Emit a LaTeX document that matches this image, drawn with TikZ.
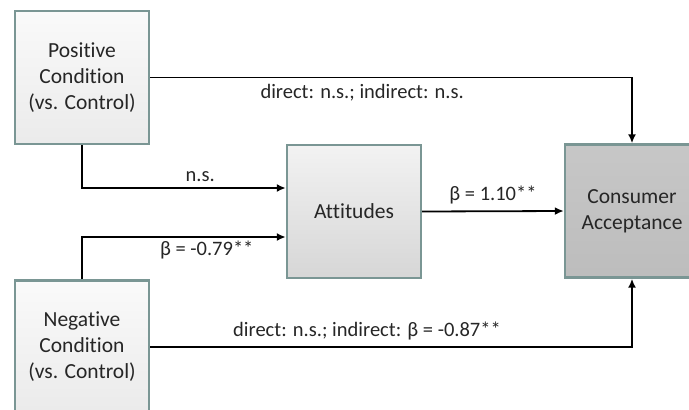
\documentclass[tikz,border=0pt]{standalone}
\usepackage{fontspec}
\setmainfont{Carlito}[Ligatures=NoCommon]
\usetikzlibrary{arrows.meta,calc,positioning}

\definecolor{boxline}{HTML}{7A9694}
\definecolor{txt}{HTML}{262626}

\tikzset{
  varbox/.style={draw=boxline, line width=2.4pt, minimum width=134pt, minimum height=133pt,
                 align=center, text=txt, font=\fontsize{21.5}{26}\selectfont, inner sep=0pt},
  condbox/.style={varbox, shading=axis, shading angle=135, top color=white!96!gray, bottom color=black!8},
  attbox/.style={varbox, shading=axis, shading angle=135, top color=black!5, middle color=black!15, bottom color=black!16},
  accbox/.style={varbox, shading=axis, shading angle=135, top color=black!22, middle color=black!38, bottom color=black!26},
  arr/.style={line width=1.8pt, -{Latex[length=9pt,width=8pt]}},
  lbl/.style={text=txt, font=\fontsize{20.5}{24}\selectfont, inner sep=2pt}
}

\begin{document}
\begin{tikzpicture}[x=1pt,y=-1pt]
  \useasboundingbox (0,0) rectangle (689,410);
  \clip (0,0) rectangle (689,410);
                      % boxes
                      \node [condbox] (pos) at (82,77.5) {Positive\\Condition\\(vs. Control)};
                      \node [condbox] (neg) at (82,347) {Negative\\Condition\\(vs. Control)};
                      \node [attbox] (att) at (354,211.5) {Attitudes};
                      \node [accbox] (acc) at (632,211) {Consumer\\Acceptance};
                      % paths
                      \draw [arr] (pos.east) -| (acc.north) node [lbl, pos=0.22, below=4pt] {direct: n.s.; indirect: n.s.};
                      \draw [arr] (neg.east) -| (acc.south) node [lbl, pos=0.225, above=4pt] {direct: n.s.; indirect: β = -0.87**};
                      \draw [arr] (pos.south) |- ([yshift=23.5pt]att.west) node [lbl, pos=0.79, above=3pt] {n.s.};
                      \draw [arr] (neg.north) |- ([yshift=-25.5pt]att.west) node [lbl, pos=0.806, below=1pt] {β = -0.79**};
                      \draw [arr] (att.east) -- (acc.west) node [lbl, midway, above=4pt] {β = 1.10**};
\end{tikzpicture}
\end{document}
